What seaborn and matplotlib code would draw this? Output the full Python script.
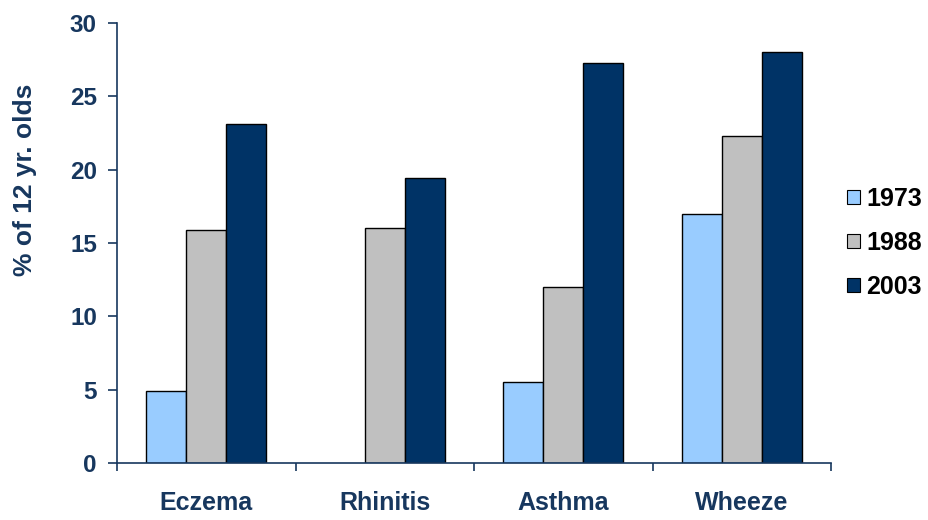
import numpy as np
import pandas as pd
import matplotlib
matplotlib.use("Agg")
import matplotlib.pyplot as plt
import seaborn as sns
from matplotlib.ticker import FixedLocator

# Prevalence (% of 12-year-olds) by condition and survey year
conditions = ["Eczema", "Rhinitis", "Asthma", "Wheeze"]
years = ["1973", "1988", "2003"]
pct_1973 = [4.9, np.nan, 5.5, 17.0]
pct_1988 = [15.9, 16.0, 12.0, 22.3]
pct_2003 = [23.1, 19.4, 27.3, 28.0]
y_ticks = [0, 5, 10, 15, 20, 25, 30]

df = pd.DataFrame({
    "condition": conditions * 3,
    "year": [years[0]] * 4 + [years[1]] * 4 + [years[2]] * 4,
    "pct": pct_1973 + pct_1988 + pct_2003,
})

sns.set_theme(style="white")
plt.rcParams["font.family"] = ["Liberation Sans", "DejaVu Sans"]
plt.rcParams["font.weight"] = "bold"

navy = "#17375E"
palette = {"1973": "#99CCFF", "1988": "#C0C0C0", "2003": "#003366"}

fig = plt.figure(figsize=(9.29, 5.20), dpi=100)
ax = fig.add_axes([0.126, 0.1096, 0.7685, 0.8462])

sns.barplot(data=df, x="condition", y="pct", hue="year", order=conditions,
            hue_order=years, palette=palette, width=0.672, saturation=1,
            edgecolor="black", linewidth=1.0, ax=ax, legend=True)

ax.set_ylim(0, 30)
ax.set_xlim(-0.5, 3.5)
ax.set_yticks(y_ticks)
ax.set_yticklabels([str(t) for t in y_ticks], fontsize=17.5, fontweight="bold", color=navy)
ax.set_xticks(range(len(conditions)))
ax.set_xticklabels(conditions, fontsize=18, fontweight="bold", color=navy)
ax.xaxis.set_minor_locator(FixedLocator(np.arange(-0.5, 4.0, 1.0)))

ax.tick_params(axis="y", which="major", direction="out", length=6.5, width=1.2,
               color=navy, pad=8, left=True)
ax.tick_params(axis="x", which="major", length=0, pad=20)
ax.tick_params(axis="x", which="minor", direction="out", length=6, width=1.2,
               color=navy, bottom=True)

for side in ["top", "right"]:
    ax.spines[side].set_visible(False)
for side in ["left", "bottom"]:
    ax.spines[side].set_color(navy)
    ax.spines[side].set_linewidth(1.2)

ax.set_xlabel("")
ax.set_ylabel("")
fig.text(0.027, 0.654, "% of 12 yr. olds", rotation=90, ha="center", va="center",
         fontsize=19, fontweight="bold", color=navy)

leg = ax.legend(loc="center left", bbox_to_anchor=(0.912, 0.533),
                bbox_transform=fig.transFigure, frameon=False,
                prop={"size": 18, "weight": "bold"}, handlelength=0.5, handleheight=0.5,
                handletextpad=0.25, labelspacing=0.8, borderpad=0, borderaxespad=0)
for txt in leg.get_texts():
    txt.set_color("black")
for h in leg.legend_handles:
    h.set_linewidth(0.8)

fig.savefig("out.png", dpi=100)
